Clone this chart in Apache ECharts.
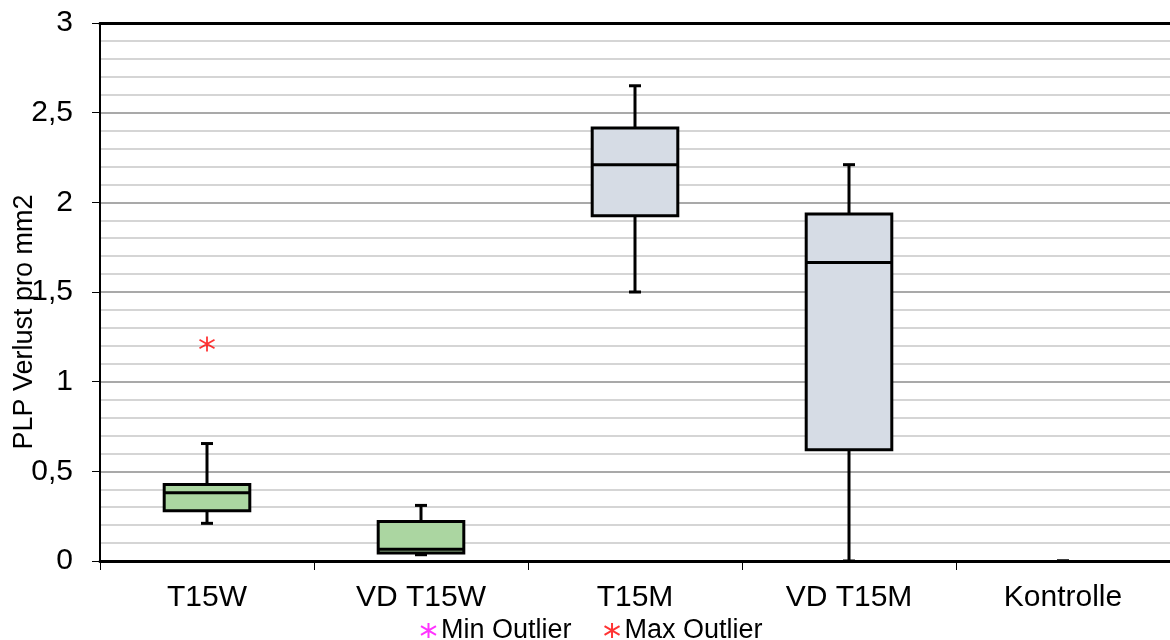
<!DOCTYPE html>
<html>
<head>
<meta charset="utf-8">
<script src="https://cdn.jsdelivr.net/npm/echarts@6/dist/echarts.min.js"></script>
<style>html,body{margin:0;padding:0;background:#fff}#c{width:1170px;height:640px}</style>
</head>
<body>
<div id="c"></div>
<script>
const categories = ['T15W', 'VD T15W', 'T15M', 'VD T15M', 'Kontrolle'];
const mins    = [0.21, 0.035, 1.50, 0.00, 0.00];
const q1s     = [0.28, 0.045, 1.925, 0.62, 0.00];
const medians = [0.38, 0.065, 2.21, 1.665, 0.00];
const q3s     = [0.427, 0.22, 2.415, 1.935, 0.00];
const maxs    = [0.655, 0.31, 2.65, 2.21, 0.00];
const maxOutliers = [['T15W', 1.21]];
const minOutliers = [];
const yTicks = [0, 0.5, 1, 1.5, 2, 2.5, 3];
const boxColors = ['#abd6a1', '#abd6a1', '#d6dce5', '#d6dce5', '#d6dce5'];

const FONT = '"Liberation Sans", Arial, sans-serif';
const STAR = 'path://M7,0L7,14M0,3L14,11M0,11L14,3';

const boxData = categories.map((c, i) => [i, mins[i], q1s[i], medians[i], q3s[i], maxs[i]]);

const chart = echarts.init(document.getElementById('c'), null, {renderer: 'canvas'});
chart.setOption({
  animation: false,
  backgroundColor: '#fff',
  grid: {left: 100, right: 0, top: 23, bottom: 79},
  xAxis: [{
    type: 'category',
    data: categories,
    boundaryGap: true,
    axisLine: {lineStyle: {color: '#000', width: 3}},
    axisTick: {show: true, length: 9, lineStyle: {color: '#000', width: 1}},
    axisLabel: {color: '#000', fontSize: 30, fontFamily: FONT, margin: 22},
    splitLine: {show: false}
  }, {
    type: 'category',
    data: categories,
    position: 'top',
    axisLine: {lineStyle: {color: '#000', width: 3}},
    axisTick: {show: false},
    axisLabel: {show: false}
  }],
  yAxis: {
    type: 'value',
    min: yTicks[0], max: yTicks[yTicks.length - 1], interval: 0.5,
    axisLine: {show: true, lineStyle: {color: '#000', width: 2}},
    axisTick: {show: true, length: 8, lineStyle: {color: '#000', width: 1}},
    axisLabel: {color: '#000', fontSize: 30, fontFamily: FONT, margin: 27,
      formatter: v => String(v).replace('.', ',')},
    splitLine: {show: true, lineStyle: {color: '#8c8c8c', width: 1.5}},
    minorTick: {show: false, splitNumber: 5},
    minorSplitLine: {show: true, lineStyle: {color: '#c8c8c8', width: 1.5}}
  },
  graphic: [{
    type: 'text',
    x: 25, y: 322,
    rotation: Math.PI / 2,
    style: {text: 'PLP Verlust pro mm2', font: '27px ' + FONT, fill: '#000', align: 'center', verticalAlign: 'middle'}
  }],
  legend: {
    left: 415, top: 612,
    itemWidth: 15, itemHeight: 15, itemGap: 32,
    textStyle: {color: '#000', fontSize: 27, fontFamily: FONT},
    data: [
      {name: 'Min Outlier', icon: STAR},
      {name: 'Max Outlier', icon: STAR}
    ]
  },
  series: [{
    type: 'custom',
    name: 'box',
    data: boxData,
    encode: {x: 0, y: [1, 2, 3, 4, 5]},
    renderItem: function (params, api) {
      const i = api.value(0);
      const cx = api.coord([i, 0])[0];
      const bw = api.size([1, 0])[0] * 0.4;
      const yMin = api.coord([i, api.value(1)])[1];
      const yQ1 = api.coord([i, api.value(2)])[1];
      const yMed = api.coord([i, api.value(3)])[1];
      const yQ3 = api.coord([i, api.value(4)])[1];
      const yMax = api.coord([i, api.value(5)])[1];
      const cap = 6;
      const ls = {stroke: '#000', lineWidth: 3, fill: null};
      const children = [
        {type: 'line', shape: {x1: cx, y1: yQ3, x2: cx, y2: yMax}, style: ls},
        {type: 'line', shape: {x1: cx, y1: yQ1, x2: cx, y2: yMin}, style: ls},
        {type: 'line', shape: {x1: cx - cap, y1: yMax, x2: cx + cap, y2: yMax}, style: ls},
        {type: 'line', shape: {x1: cx - cap, y1: yMin, x2: cx + cap, y2: yMin}, style: ls}
      ];
      if (yQ1 - yQ3 > 0.5) {
        children.push(
          {type: 'rect', shape: {x: cx - bw / 2, y: yQ3, width: bw, height: yQ1 - yQ3},
            style: {fill: boxColors[i], stroke: '#000', lineWidth: 3}},
          {type: 'line', shape: {x1: cx - bw / 2, y1: yMed, x2: cx + bw / 2, y2: yMed}, style: ls}
        );
      }
      return {type: 'group', children: children};
    },
    z: 3
  }, {
    type: 'scatter',
    name: 'Min Outlier',
    data: minOutliers,
    symbol: STAR,
    symbolSize: 15,
    itemStyle: {color: 'rgba(0,0,0,0)', borderColor: '#ff00ff', borderWidth: 1.8},
    z: 4
  }, {
    type: 'scatter',
    name: 'Max Outlier',
    data: maxOutliers,
    symbol: STAR,
    symbolSize: 15,
    itemStyle: {color: 'rgba(0,0,0,0)', borderColor: '#ff0000', borderWidth: 1.8},
    z: 4
  }]
});
</script>
</body>
</html>
